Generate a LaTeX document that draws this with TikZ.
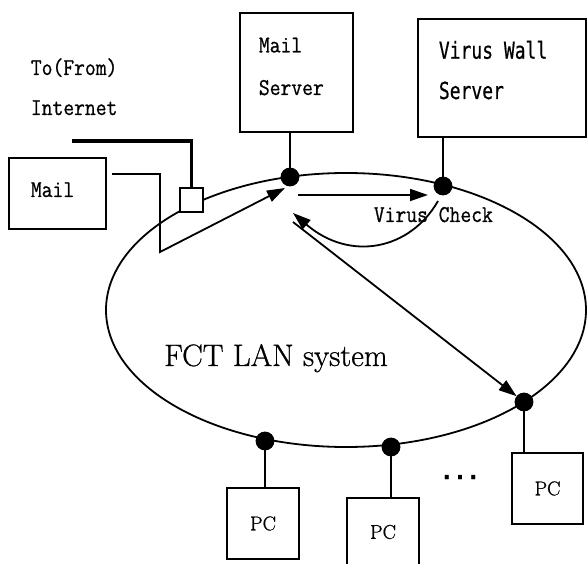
\documentclass[tikz,border=0pt]{standalone}
\usepackage{fontspec}
\newfontfamily\gothicmono[FakeBold=0.6]{DejaVu Sans Mono}
\newfontfamily\minmono[FakeBold=0.8]{Latin Modern Mono}
\newfontfamily\lanfont[FakeBold=0.8]{Latin Modern Roman}
\usetikzlibrary{arrows.meta}

\begin{document}
\begin{tikzpicture}[x=1pt,y=-1pt,line width=1.8pt,
		>={Triangle[length=18pt,width=12pt]},
		box/.style={draw,rectangle,inner sep=0pt},
		tap/.style={draw,circle,fill,minimum size=17pt,inner sep=0pt},
		mono/.style={font=\fontsize{21}{37}\minmono,inner sep=0pt,yscale=1.15,transform shape},
		gothic/.style={font=\fontsize{18}{31}\gothicmono,inner sep=0pt,yscale=1.3,transform shape},
		pcfont/.style={font=\fontsize{20}{22}\lanfont}]
	\useasboundingbox (0,0) rectangle (587,564);
	\clip (0,0) rectangle (587,564);
	% the LAN ring
	\draw (346,310) ellipse [x radius=240, y radius=137];
	\draw
		(296.5,72.5) node [box,minimum width=113pt,minimum height=119pt] (mailsrv) {}
		(502,78) node [box,minimum width=168pt,minimum height=118pt] (vwall) {}
		(57.5,193.5) node [box,minimum width=97pt,minimum height=71pt] (mail) {}
		(191.5,200) node [box,minimum width=23pt,minimum height=24pt,fill=white] (gw) {}
		(263,523.5) node [box,minimum width=72pt,minimum height=71pt,pcfont] (pc1) {PC}
		(383,532) node [box,minimum width=72pt,minimum height=68pt,pcfont] (pc2) {PC}
		(547.5,488.5) node [box,minimum width=71pt,minimum height=71pt,pcfont] (pc3) {PC}
		;
	\draw
		(290,177) node [tap] (t1) {}
		(443,186) node [tap] (t2) {}
		(524,402) node [tap] (t3) {}
		(265,441) node [tap] (t4) {}
		(391,447) node [tap] (t5) {}
		;
	\draw
		(t1) -- (t1 |- mailsrv.south)
		(t2) -- (t2 |- vwall.south)
		(t3) -- (t3 |- pc3.north)
		(t4) -- (t4 |- pc1.north)
		(t5) -- (t5 |- pc2.north)
		;
	% labels
	\path
		(258,95) node [mono,anchor=base west,align=left] (mailsrvtxt) {Mail\\Server}
		(438,99) node [gothic,anchor=base west,align=left] (vwalltxt) {Virus Wall\\Server}
		(30,197) node [mono,anchor=base west] (mailtxt) {Mail}
		(30,75) node [mono,anchor=base west] (to) {To(From)}
		(30,115) node [mono,anchor=base west] (inet) {Internet}
		(373,222) node [mono,anchor=base west] (chk) {Virus Check}
		(276,366) node [anchor=base,font=\fontsize{31}{36}\lanfont] (lan) {FCT LAN system}
		(460,479) node [anchor=base,font=\fontsize{22}{26}\gothicmono\bfseries] (more) {...}
		;
	% mail flow
	\coordinate (wan) at (72,141);
	\coordinate (mailout) at (112,174);
	\coordinate (mailin) at (285,188);
	\coordinate (chkout) at (298,195);
	\coordinate (chkin) at (428,195);
	\coordinate (chkback) at (438,201);
	\coordinate (backin) at (293,213);
	\coordinate (lanout) at (293,222);
	\draw[line width=3.5pt] (wan) -| (gw.north);
	\draw[->] (mailout) -| (160,252) -- (mailin);
	\draw[->] (chkout) -- (chkin);
	\draw[->] (chkback) .. controls (410,250) and (350,262) .. (backin);
	\draw[->] (lanout) -- (t3);
\end{tikzpicture}
\end{document}
